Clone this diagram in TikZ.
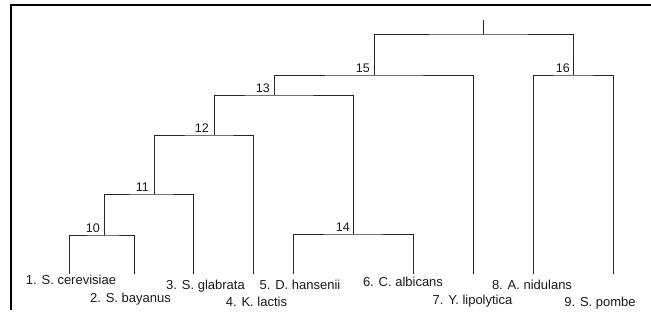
\documentclass[tikz,border=0pt]{standalone}
\usepackage{fontspec}
\setmainfont{Liberation Sans}
\begin{document}
\begin{tikzpicture}[x=1pt,y=-1pt,
  branch/.style={draw=black!85, line width=0.9pt},
  frame/.style={draw=black, line width=1.6pt},
  leaflabel/.style={anchor=base, inner sep=0pt, text=black!90, font=\fontsize{13}{15}\selectfont},
  joinlabel/.style={anchor=south east, inner sep=0pt, text=black!90, font=\fontsize{12.5}{14}\selectfont}]
\useasboundingbox (0,0) rectangle (651,320);

% frame: top and left edges only
\coordinate (fb) at (11,310);
\coordinate (fr) at (651,5);
\draw[frame] (fb) |- (fr);

% leaf tips
\coordinate (l1) at (69,274);
\coordinate (l2) at (134,274);
\coordinate (l3) at (193,274);
\coordinate (l4) at (253,274);
\coordinate (l5) at (293,274);
\coordinate (l6) at (413,274);
\coordinate (l7) at (473,274);
\coordinate (l8) at (533,274);
\coordinate (l9) at (613,274);

% internal joins (centre of each bar)
\coordinate (n10) at (104,235);
\coordinate (n11) at (154,194);
\coordinate (n12) at (214,135);
\coordinate (n13) at (274,95);
\coordinate (n14) at (353,234);
\coordinate (n15) at (374,75);
\coordinate (n16) at (573,75);
\coordinate (root) at (483,34);
\coordinate (top) at (483,20);

% branches
\draw[branch] (l1) |- (n10) -| (l2);
\draw[branch] (n10) |- (n11) -| (l3);
\draw[branch] (n11) |- (n12) -| (l4);
\draw[branch] (n12) |- (n13) -| (n14);
\draw[branch] (l5) |- (n14) -| (l6);
\draw[branch] (n13) |- (n15) -| (l7);
\draw[branch] (l8) |- (n16) -| (l9);
\draw[branch] (n15) |- (root) -| (n16);
\draw[branch] (root) -- (top);

% join numbers
\node[joinlabel] (t10) at (100,233) {10};
\node[joinlabel] (t11) at (149,192) {11};
\node[joinlabel] (t12) at (209,133) {12};
\node[joinlabel] (t13) at (270,93) {13};
\node[joinlabel] (t14) at (350,232) {14};
\node[joinlabel] (t15) at (370,73) {15};
\node[joinlabel] (t16) at (570,73) {16};

% species names
\node[leaflabel] (s1) at (71,285) {1. S. cerevisiae};
\node[leaflabel] (s2) at (130.5,302.5) {2. S. bayanus};
\node[leaflabel] (s3) at (205.5,289.5) {3. S. glabrata};
\node[leaflabel] (s4) at (256.5,306.5) {4. K. lactis};
\node[leaflabel] (s5) at (300,290) {5. D. hansenii};
\node[leaflabel] (s6) at (403,287) {6. C. albicans};
\node[leaflabel] (s7) at (472.5,305) {7. Y. lipolytica};
\node[leaflabel] (s8) at (532,290) {8. A. nidulans};
\node[leaflabel] (s9) at (600,307) {9. S. pombe};
\end{tikzpicture}
\end{document}
